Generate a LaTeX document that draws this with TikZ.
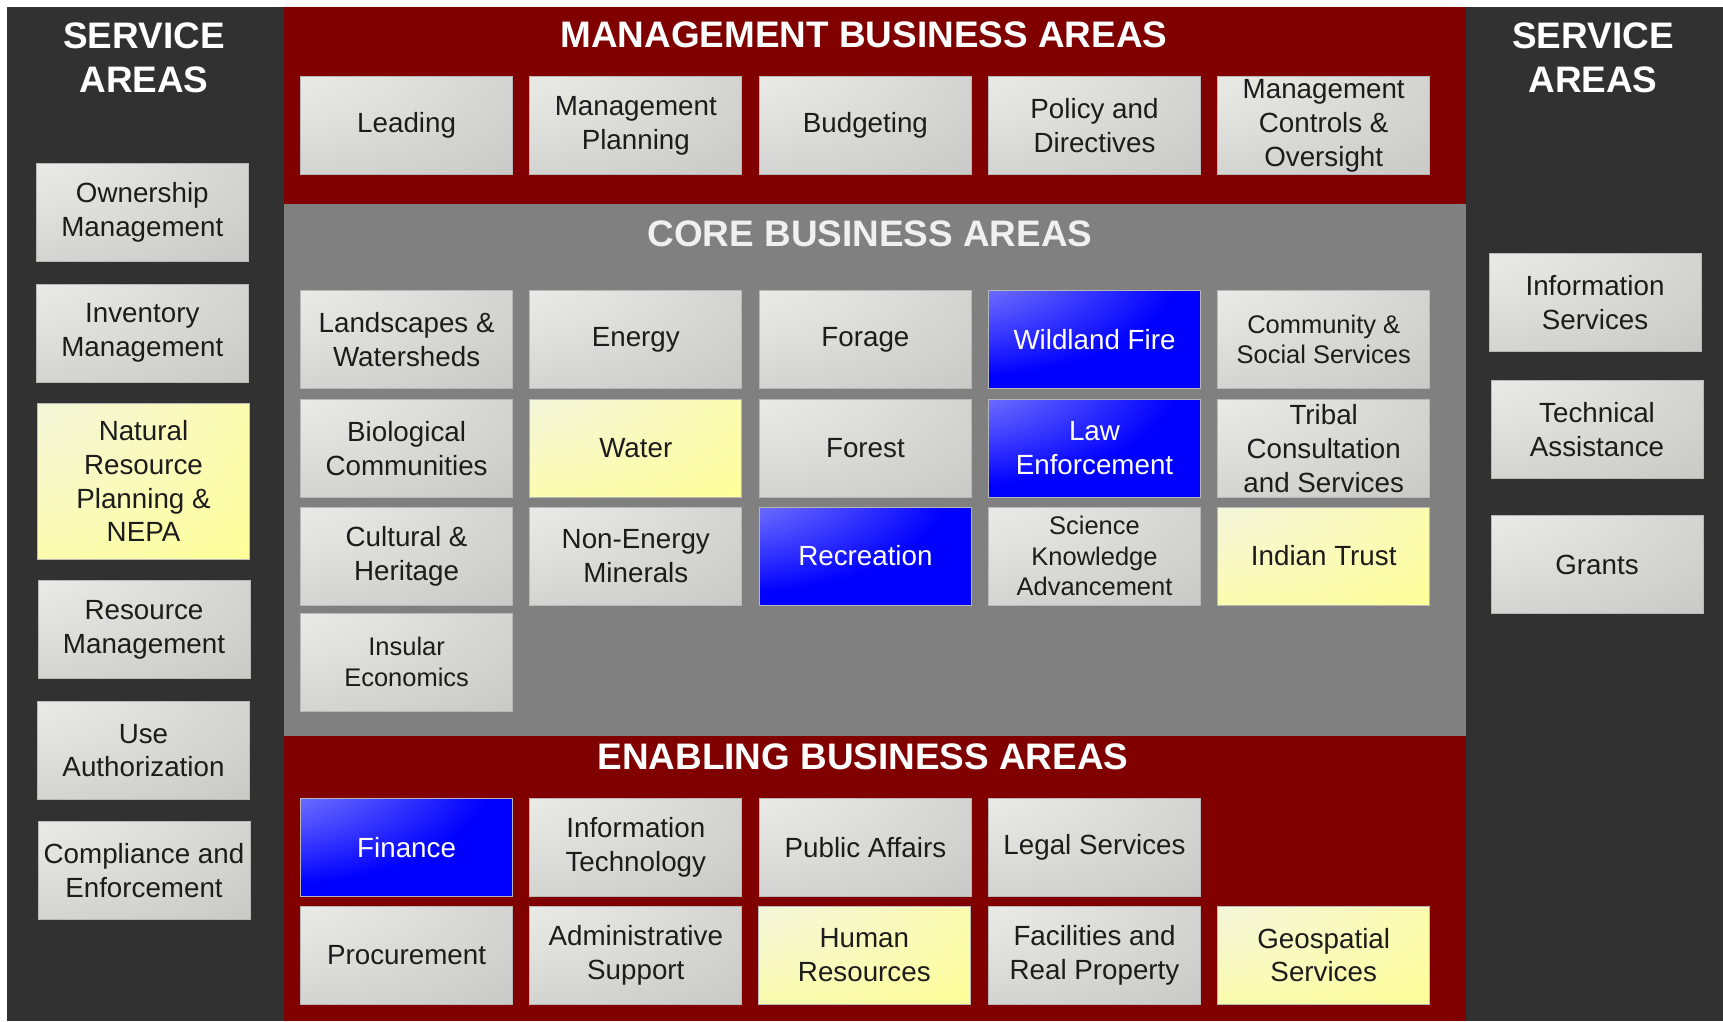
\documentclass[tikz,border=0pt]{standalone}
\usepackage{fontspec}
\setmainfont{Liberation Sans}
\definecolor{panel}{HTML}{313131}
\definecolor{mgmtred}{HTML}{800000}
\definecolor{coregray}{HTML}{808080}
\definecolor{gboxlo}{HTML}{F2F3EE}
\definecolor{gboxhi}{HTML}{B8B8B8}
\definecolor{yboxlo}{HTML}{F1F3EC}
\definecolor{yboxhi}{HTML}{FFFF99}
\definecolor{bboxlo}{HTML}{D0D0FF}
\definecolor{bboxmid}{HTML}{7272FF}
\definecolor{bboxhi}{HTML}{0000FF}
\definecolor{boxtext}{HTML}{1C1C1C}
\pgfdeclareradialshading{grayfill}{\pgfqpoint{-50bp}{50bp}}{color(0bp)=(gboxlo); color(12bp)=(gboxlo); color(96bp)=(gboxhi); color(150bp)=(gboxhi)}
\pgfdeclareradialshading{yellowfill}{\pgfqpoint{-50bp}{50bp}}{color(0bp)=(yboxlo); color(10bp)=(yboxlo); color(72bp)=(yboxhi); color(150bp)=(yboxhi)}
\pgfdeclareradialshading{bluefill}{\pgfqpoint{-50bp}{50bp}}{color(0bp)=(bboxlo); color(22bp)=(bboxmid); color(52bp)=(bboxhi); color(150bp)=(bboxhi)}
\tikzset{
  bizbox/.style={rectangle, draw=black!28, line width=0.4pt, shade, shading=grayfill,
    minimum width=4.24cm, minimum height=1.96cm, inner sep=0pt, align=center,
    text=boxtext, font=\fontsize{15.8}{19.2}\selectfont},
  yellowbox/.style={bizbox, shading=yellowfill},
  bluebox/.style={bizbox, shading=bluefill, text=white},
  smalltext/.style={font=\fontsize{14.5}{17.4}\selectfont},
  areatitle/.style={font=\bfseries\fontsize{21}{25}\selectfont, text=white, align=center, inner sep=0pt}
}
\begin{document}
\begin{tikzpicture}[x=0.02cm, y=-0.02cm]
\useasboundingbox (0,0) rectangle (1723,1021);
\fill [white] (0,0) rectangle (1723,1021);
\fill [panel] (7,7) rectangle (1723,1021);
\fill [mgmtred] (284,7) rectangle (1466,204);
\fill [coregray] (284,204) rectangle (1466,736);
\fill [mgmtred] (284,736) rectangle (1466,1021);
\node [areatitle] (svcl) at (144,58) {SERVICE\\AREAS};
\node [areatitle] (svcr) at (1593,58) {SERVICE\\AREAS};
\node [areatitle] (mgmt) at (864,35) {MANAGEMENT BUSINESS AREAS};
\node [areatitle, text=white!94!black] (core) at (870,234) {CORE BUSINESS AREAS};
\node [areatitle] (enab) at (863,757) {ENABLING BUSINESS AREAS};
\node [bizbox] (lead) at (406.6,125.8) {Leading};
\node [bizbox] (mplan) at (635.8,125.8) {Management\\Planning};
\node [bizbox] (budget) at (865.4,125.8) {Budgeting};
\node [bizbox] (policy) at (1094.5,125.8) {Policy and\\Directives};
\node [bizbox] (mctrl) at (1323.7,125.8) {Management\\Controls \&\\Oversight};
\node [bizbox] (land) at (406.6,339.6) {Landscapes \&\\Watersheds};
\node [bizbox] (energy) at (635.8,339.6) {Energy};
\node [bizbox] (forage) at (865.4,339.6) {Forage};
\node [bluebox] (wfire) at (1094.5,339.6) {Wildland Fire};
\node [bizbox, smalltext] (comm) at (1323.7,339.6) {Community \&\\Social Services};
\node [bizbox] (bio) at (406.6,448.4) {Biological\\Communities};
\node [yellowbox] (water) at (635.8,448.4) {Water};
\node [bizbox] (forest) at (865.4,448.4) {Forest};
\node [bluebox] (law) at (1094.5,448.4) {Law\\Enforcement};
\node [bizbox] (tribal) at (1323.7,448.4) {Tribal\\Consultation\\and Services};
\node [bizbox] (cult) at (406.6,556) {Cultural \&\\Heritage};
\node [bizbox] (nonen) at (635.8,556) {Non-Energy\\Minerals};
\node [bluebox] (recr) at (865.4,556) {Recreation};
\node [bizbox, smalltext] (sci) at (1094.5,556) {Science\\Knowledge\\Advancement};
\node [yellowbox] (trust) at (1323.7,556) {Indian Trust};
\node [bizbox, smalltext] (insul) at (406.6,662) {Insular\\Economics};
\node [bluebox] (fin) at (406.6,847.3) {Finance};
\node [bizbox] (infot) at (635.8,847.3) {Information\\Technology};
\node [bizbox] (pubaff) at (865.4,847.3) {Public Affairs};
\node [bizbox] (legal) at (1094.5,847.3) {Legal Services};
\node [bizbox] (proc) at (406.6,955) {Procurement};
\node [bizbox] (admin) at (635.8,955) {Administrative\\Support};
\node [yellowbox] (hr) at (864.3,955) {Human\\Resources};
\node [bizbox] (facil) at (1094.5,955) {Facilities and\\Real Property};
\node [yellowbox] (geo) at (1323.7,955) {Geospatial\\Services};
\node [bizbox] (owner) at (142.3,212) {Ownership\\Management};
\node [bizbox] (invent) at (142.3,333) {Inventory\\Management};
\node [yellowbox, minimum height=3.12cm] (natres) at (143.5,481.3) {Natural\\Resource\\Planning \&\\NEPA};
\node [bizbox] (resmgmt) at (144,629.7) {Resource\\Management};
\node [bizbox] (useauth) at (143.5,750.5) {Use\\Authorization};
\node [bizbox] (compl) at (144,870.3) {Compliance and\\Enforcement};
\node [bizbox] (infsvc) at (1595,302.7) {Information\\Services};
\node [bizbox] (tech) at (1597,429.7) {Technical\\Assistance};
\node [bizbox] (grants) at (1597,564.8) {Grants};
\end{tikzpicture}
\end{document}
